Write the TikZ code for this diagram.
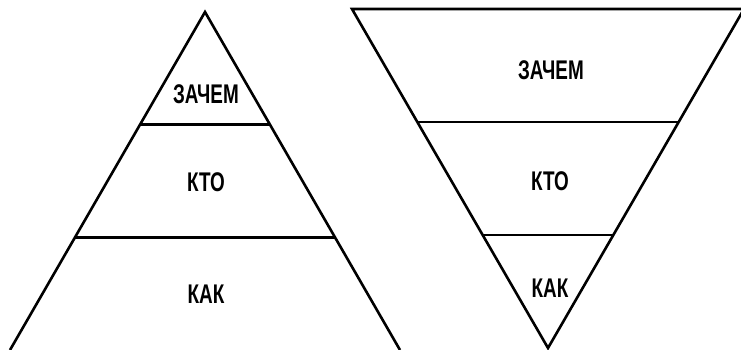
\documentclass[tikz,border=0pt]{standalone}
\usepackage{fontspec}
\newfontfamily\tierfont{Liberation Sans Bold}[FakeStretch=0.7]
\usetikzlibrary{calc}

\begin{document}
\begin{tikzpicture}[x=1pt, y=-1pt,
    edge/.style={draw=black, line width=2.6pt, line join=miter},
    tier/.style={font=\tierfont\fontsize{27}{27}\selectfont, inner sep=0pt}]
    \useasboundingbox (0,0) rectangle (741,349);
    \clip (0,0) rectangle (741,349);

    % Pyramid on the left
    \coordinate (apexL) at (205,12);
    \coordinate (baseL1) at (10,350);
    \coordinate (baseL2) at (400,350);
    \draw[edge] (baseL1) -- (apexL) -- (baseL2);
    \draw[edge] ($(apexL)!1/3!(baseL1)$) -- ($(apexL)!1/3!(baseL2)$);
    \draw[edge] ($(apexL)!2/3!(baseL1)$) -- ($(apexL)!2/3!(baseL2)$);

    \node[tier] (whyL) at (206,94) {ЗАЧЕМ};
    \node[tier] (whoL) at (206,182) {КТО};
    \node[tier] (howL) at (206,294) {КАК};

    % Funnel on the right
    \coordinate (topR1) at (352,9);
    \coordinate (topR2) at (744,9);
    \coordinate (apexR) at (548,348);
    \draw[edge] (apexR) -- (topR1) -- (topR2) -- cycle;
    \draw[edge] ($(topR1)!1/3!(apexR)$) -- ($(topR2)!1/3!(apexR)$);
    \draw[edge] ($(topR1)!2/3!(apexR)$) -- ($(topR2)!2/3!(apexR)$);

    \node[tier] (whyR) at (551,70) {ЗАЧЕМ};
    \node[tier] (whoR) at (550,181) {КТО};
    \node[tier] (howR) at (550,288) {КАК};
\end{tikzpicture}
\end{document}
